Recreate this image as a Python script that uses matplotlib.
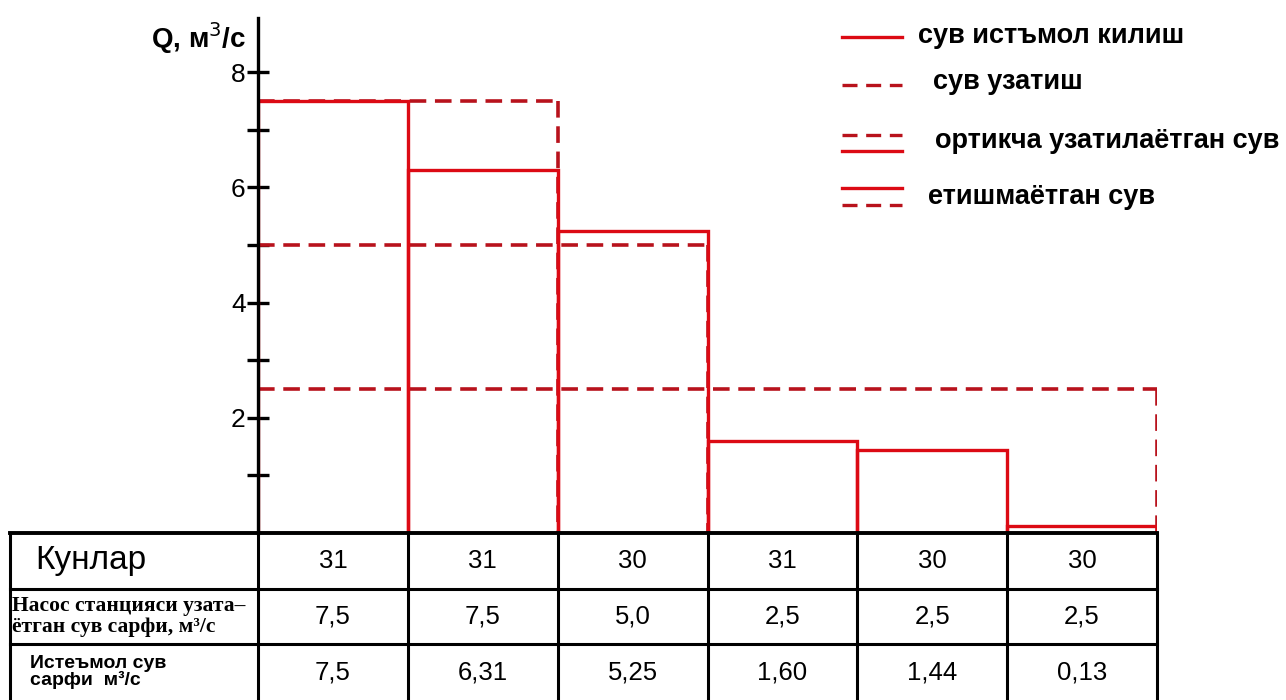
import matplotlib
matplotlib.use('Agg')
import matplotlib.pyplot as plt

# ---------------- data ----------------
days = ['31', '31', '30', '31', '30', '30']
supply = [7.5, 7.5, 5.0, 2.5, 2.5, 2.5]                 # насос станцияси узатаётган сув сарфи
consumption = [7.5, 6.31, 5.25, 1.60, 1.44, 0.13]       # истеъмол сув сарфи
supply_labels = ['7,5', '7,5', '5,0', '2,5', '2,5', '2,5']
consumption_labels = ['7,5', '6,31', '5,25', '1,60', '1,44', '0,13']
row_labels = ['Кунлар',
              'Насос станцияси узата–\nётган сув сарфи, м³/с',
              'Истеъмол сув\nсарфи  м³/с']
legend_labels = ['сув истъмол килиш', 'сув узатиш',
                 'ортикча узатилаётган сув', 'етишмаётган сув']
y_ticks = [1, 2, 3, 4, 5, 6, 7, 8]
y_tick_labels = ['', '2', '', '4', '', '6', '', '8']
y_label = 'Q, м$^3$/с'

# ---------------- style ----------------
RED = '#dc0a14'
DRED = '#b8121c'
DASH = (0, (4.6, 2.4))
W, H = 1286, 700
AX_L, AX_R, AX_B, AX_T = 258, 1157, 533, 18

fig = plt.figure(figsize=(W / 100, H / 100), dpi=100)
fig.patch.set_facecolor('white')

ax = fig.add_axes([AX_L / W, 1 - AX_B / H, (AX_R - AX_L) / W, (AX_B - AX_T) / H])
n = len(consumption)
ax.set_xlim(0, n)
ax.set_ylim(0, 8.94)

# supply (dashed) – each level runs from the start to the last month it covers
for lev in sorted(set(supply)):
    end = sum(1 for s in supply if s >= lev)
    ax.plot([0, end], [lev, lev], color=DRED, lw=2.6, linestyle=DASH, zorder=2,
            solid_capstyle='butt')
    ax.plot([end, end], [lev, 0], color=DRED, lw=2.6, linestyle=DASH, zorder=2)

# consumption (solid outlines)
ax.bar(range(n), consumption, width=1, align='edge', fill=False,
       edgecolor=RED, linewidth=2.4, zorder=3)

for s in ['top', 'right', 'bottom']:
    ax.spines[s].set_visible(False)
ax.spines['left'].set_linewidth(2.4)
ax.spines['left'].set_zorder(6)
ax.set_xticks([])
ax.set_yticks(y_ticks)
ax.set_yticklabels(y_tick_labels)
ax.tick_params(axis='y', direction='inout', length=16, width=2.4, pad=1,
               labelsize=19)
for t in ax.get_yticklabels():
    t.set_fontfamily('Liberation Sans')
ax.patch.set_alpha(0)

fig.text(246 / W, 1 - 38 / H, y_label, ha='right', va='center',
         fontsize=20, fontweight='bold', family='Liberation Sans')

# ---------------- table ----------------
px_per_unit = (AX_R - AX_L) / n
first_w = (AX_L - 10) / px_per_unit
axt = fig.add_axes([10 / W, 0, (AX_R - 10) / W, (H - AX_B) / H])
axt.set_xlim(-first_w, n)
axt.set_ylim(3, 0)
axt.axis('off')
axt.plot([-first_w, n], [0, 0], color='black', lw=2.8, clip_on=False)
for r in [1, 2]:
    axt.plot([-first_w, n], [r, r], color='black', lw=2.2, clip_on=False)
for c in [-first_w] + list(range(n + 1)):
    axt.plot([c, c], [0, 3], color='black', lw=2.2, clip_on=False)

axt.text(-first_w + 25 / px_per_unit, 0.5, row_labels[0], ha='left', va='center',
         fontsize=24, family='Liberation Sans')
axt.text(-first_w + 2 / px_per_unit, 1.5, row_labels[1], ha='left', va='center',
         fontsize=15.5, fontweight='bold', family='Liberation Serif', linespacing=1.1)
axt.text(-first_w + 20 / px_per_unit, 2.5, row_labels[2], ha='left', va='center',
         fontsize=14, fontweight='bold', family='Liberation Sans', linespacing=0.95)

for i in range(n):
    axt.text(i + 0.5, 0.5, days[i], ha='center', va='center', fontsize=18.5,
             family='Liberation Sans')
    axt.text(i + 0.5, 1.5, supply_labels[i], ha='center', va='center', fontsize=18.5,
             family='Liberation Sans')
    axt.text(i + 0.5, 2.5, consumption_labels[i], ha='center', va='center',
             fontsize=18.5, family='Liberation Sans')

# ---------------- legend ----------------
axl = fig.add_axes([0, 0, 1, 1])
axl.set_xlim(0, W)
axl.set_ylim(H, 0)
axl.axis('off')
lx0, lx1 = 842, 902
axl.plot([lx0, lx1], [37, 37], color=RED, lw=2.4)
axl.plot([lx0, lx1], [85, 85], color=DRED, lw=2.4, linestyle=(0, (4.5, 2.6)))
axl.plot([lx0, lx1], [135, 135], color=DRED, lw=2.4, linestyle=(0, (4.5, 2.6)))
axl.plot([lx0, lx1], [151, 151], color=RED, lw=2.4)
axl.plot([lx0, lx1], [188, 188], color=RED, lw=2.4)
axl.plot([lx0, lx1], [205, 205], color=DRED, lw=2.4, linestyle=(0, (4.5, 2.6)))
for x, y, lab in zip([918, 933, 935, 928], [36, 82, 141, 197], legend_labels):
    axl.text(x, y, lab, ha='left', va='center', fontsize=19.5, fontweight='bold',
             family='Liberation Sans')

fig.savefig('out.png', dpi=100, facecolor='white')
